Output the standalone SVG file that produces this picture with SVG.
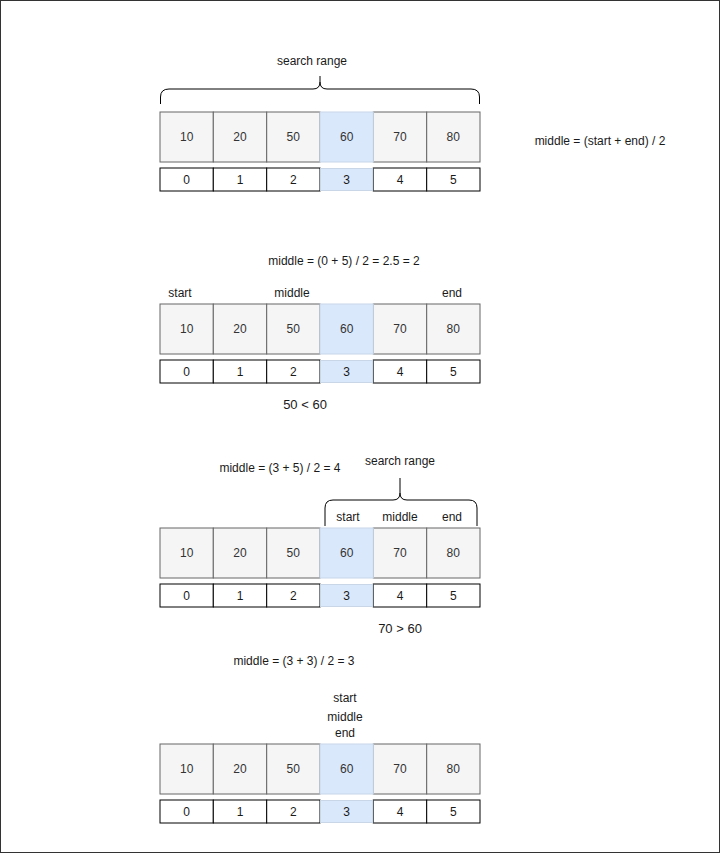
<svg xmlns="http://www.w3.org/2000/svg" width="721" height="855" viewBox="0 0 721 855">
<style>
text{font-family:"Liberation Sans",Arial,sans-serif;font-size:12px;fill:#1a1a1a;text-anchor:middle;dominant-baseline:central}
.v{fill:#f5f5f5;stroke:#666;stroke-width:1}
.vb{fill:#dae8fc;stroke:#c9d6e8;stroke-width:1}
.i{fill:#fff;stroke:#000;stroke-width:1}
.ib{fill:#dae8fc;stroke:#c9d6e8;stroke-width:1}
.vt{fill:#333}
.brace{fill:none;stroke:#000;stroke-width:1}
</style>
<defs>
<g id="arr">
<rect class="v" x="160" y="0" width="53.3" height="50"/>
<rect class="v" x="213.3" y="0" width="53.4" height="50"/>
<rect class="v" x="266.7" y="0" width="53.3" height="50"/>
<rect class="v" x="373.3" y="0" width="53.4" height="50"/>
<rect class="v" x="426.7" y="0" width="53.3" height="50"/>
<rect class="vb" x="320" y="0" width="53.3" height="50"/>
<text class="vt" x="186.7" y="25">10</text>
<text class="vt" x="240" y="25">20</text>
<text class="vt" x="293.3" y="25">50</text>
<text class="vt" x="346.7" y="25">60</text>
<text class="vt" x="400" y="25">70</text>
<text class="vt" x="453.3" y="25">80</text>
<rect class="i" x="160" y="56" width="53.3" height="23"/>
<rect class="i" x="213.3" y="56" width="53.4" height="23"/>
<rect class="i" x="266.7" y="56" width="53.3" height="23"/>
<rect class="i" x="373.3" y="56" width="53.4" height="23"/>
<rect class="i" x="426.7" y="56" width="53.3" height="23"/>
<rect class="ib" x="320.5" y="56.5" width="52.3" height="22"/>
<text x="186.7" y="67.5">0</text>
<text x="240" y="67.5">1</text>
<text x="293.3" y="67.5">2</text>
<text x="346.7" y="67.5">3</text>
<text x="400" y="67.5">4</text>
<text x="453.3" y="67.5">5</text>
</g>
</defs>
<rect x="0.5" y="0.5" width="719" height="852" fill="#fff" stroke="#333" stroke-width="1"/>

<g id="step1">
<text x="312" y="61">search range</text>
<path class="brace" d="M160.5,104 V97 Q160.5,89 169,89 H313 Q320,89 320,82 V76 M320,82 Q320,89 327,89 H471 Q479.5,89 479.5,97 V104"/>
<use href="#arr" y="112"/>
<text x="600" y="141">middle = (start + end) / 2</text>
</g>

<g id="step2">
<text x="344" y="261">middle = (0 + 5) / 2 = 2.5 = 2</text>
<text x="180" y="293">start</text>
<text x="292" y="293">middle</text>
<text x="452" y="293">end</text>
<use href="#arr" y="304"/>
<text x="305" y="404" style="font-size:13px">50 &lt; 60</text>
</g>

<g id="step3">
<text x="280" y="468">middle = (3 + 5) / 2 = 4</text>
<text x="400" y="461">search range</text>
<path class="brace" d="M325,526 V508 Q325,500 333,500 H393 Q400,500 400,493 V478 M400,493 Q400,500 407,500 H469 Q477,500 477,508 V526"/>
<text x="348" y="517">start</text>
<text x="400" y="517">middle</text>
<text x="452" y="517">end</text>
<use href="#arr" y="528"/>
<text x="400" y="628" style="font-size:13px">70 &gt; 60</text>
</g>

<g id="step4">
<text x="294" y="661">middle = (3 + 3) / 2 = 3</text>
<text x="345" y="698">start</text>
<text x="345" y="717">middle</text>
<text x="345" y="733">end</text>
<use href="#arr" y="744"/>
</g>
</svg>
